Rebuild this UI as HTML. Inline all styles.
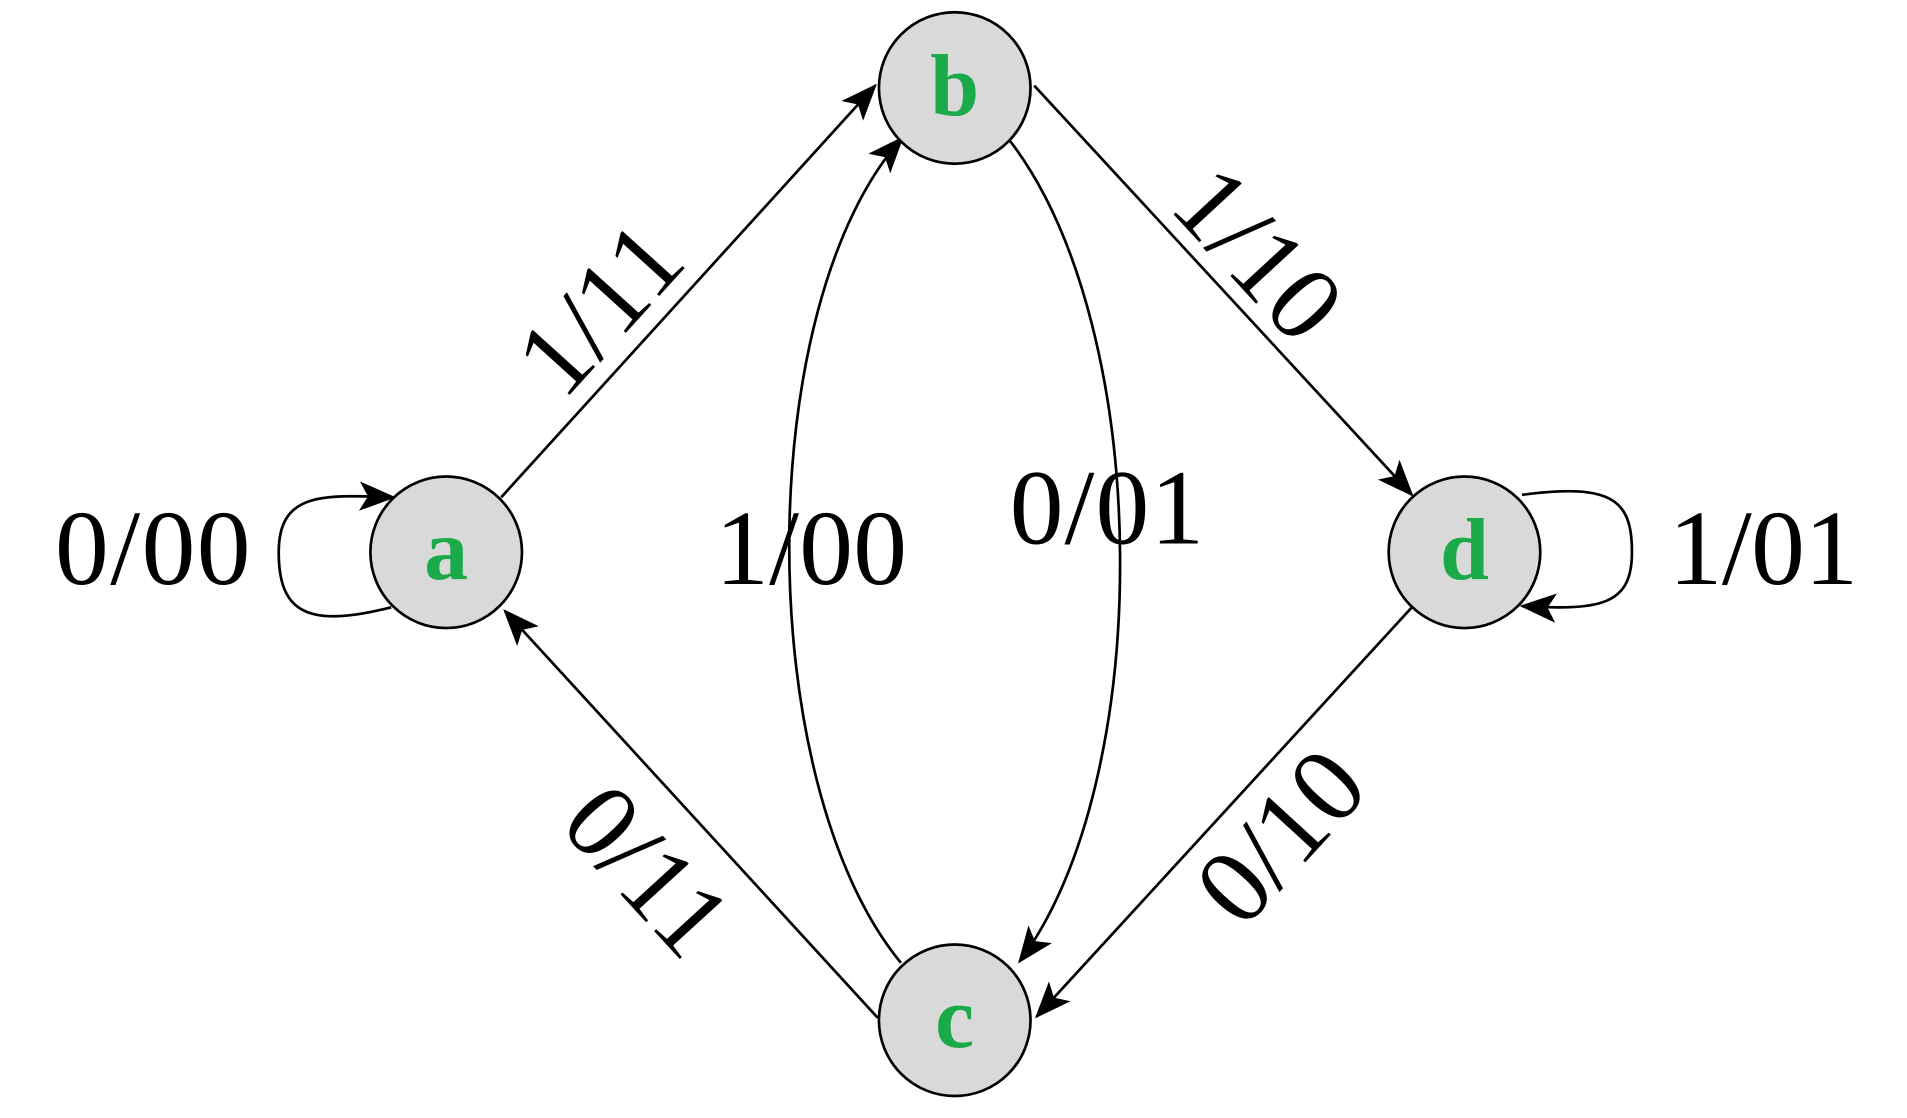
<!DOCTYPE html>
<html><head><meta charset="utf-8"><style>
html,body{margin:0;padding:0;background:#fff;}
svg{display:block;}
text{font-family:"Liberation Serif",serif;}
</style></head><body>
<svg width="1907" height="1118" viewBox="0 0 1560 915" preserveAspectRatio="none" xmlns="http://www.w3.org/2000/svg">
<defs>
<marker id="m" viewBox="0 0 30 24" refX="28" refY="12" markerWidth="30" markerHeight="24" orient="auto" markerUnits="userSpaceOnUse">
<path d="M0,0 L30,12 L0,24 L7,12 Z" fill="#000"/>
</marker>
</defs>
<g fill="none" stroke="#000" stroke-width="2.2">
<path d="M410,407 L716,70" marker-end="url(#m)"/>
<path d="M737,788 C615,640 615,250 738,113" marker-end="url(#m)"/>
<path d="M826,115 C945,270 945,640 834,787" marker-end="url(#m)"/>
<path d="M846,70 L1155,405" marker-end="url(#m)"/>
<path d="M1155,497 L848,832" marker-end="url(#m)"/>
<path d="M718,833 L413,500" marker-end="url(#m)"/>
<path d="M320,497 C250,515 228,500 228,452 C228,402 265,405 322,407" marker-end="url(#m)"/>
<path d="M1245,405 C1320,395 1335,410 1335,452 C1335,495 1310,500 1245,496" marker-end="url(#m)"/>
</g>
<g fill="#d9d9d9" stroke="#000" stroke-width="2.2">
<circle cx="365" cy="452" r="62"/>
<circle cx="781" cy="72" r="62"/>
<circle cx="781" cy="835" r="62"/>
<circle cx="1198" cy="452" r="62"/>
</g>
<g fill="#1aaa4a" font-weight="bold" font-size="72" text-anchor="middle">
<text x="365" y="474">a</text>
<text x="781" y="94">b</text>
<text x="781" y="857">c</text>
<text x="1198" y="474">d</text>
</g>
<g fill="#000" font-size="88">
<text x="45" y="478" textLength="160">0/00</text>
<text x="585" y="478" textLength="157">1/00</text>
<text x="826" y="445" textLength="159">0/01</text>
<text x="1365" y="478" textLength="155">1/01</text>
<text transform="translate(490,252) rotate(-47.8)" text-anchor="middle" y="30">1/11</text>
<text transform="translate(1030,207) rotate(47.3)" text-anchor="middle" y="30">1/10</text>
<text transform="translate(530,712) rotate(47.5)" text-anchor="middle" y="30">0/11</text>
<text transform="translate(1047,684) rotate(-47.5)" text-anchor="middle" y="30">0/10</text>
</g>
</svg>
</body></html>
